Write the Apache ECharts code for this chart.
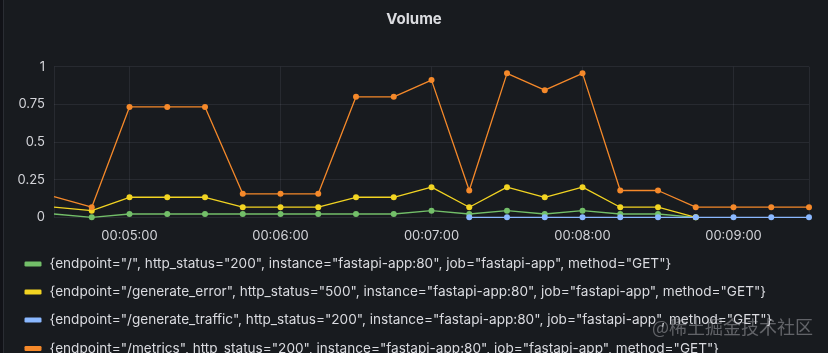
<!DOCTYPE html>
<html>
<head>
<meta charset="utf-8">
<script src="https://cdn.jsdelivr.net/npm/echarts@6/dist/echarts.min.js"></script>
<style>
html,body{margin:0;padding:0;background:#181b1f;}
#c{width:828px;height:353px;}
</style>
</head>
<body>
<div id="c"></div>
<script>
// time stamps (HH:MM:SS), every 15 s
const times = ["00:04:30","00:04:45","00:05:00","00:05:15","00:05:30","00:05:45","00:06:00","00:06:15","00:06:30","00:06:45","00:07:00","00:07:15","00:07:30","00:07:45","00:08:00","00:08:15","00:08:30","00:08:45","00:09:00","00:09:15","00:09:30"];
const rootValues = [0.022,0,0.022,0.022,0.022,0.022,0.022,0.022,0.022,0.022,0.044,0.022,0.044,0.022,0.044,0.022,0.022,0,null,null,null];
const errorValues = [0.067,0.044,0.133,0.133,0.133,0.067,0.067,0.067,0.133,0.133,0.2,0.067,0.2,0.133,0.2,0.067,0.067,0,null,null,null];
const trafficValues = [null,null,null,null,null,null,null,null,null,null,null,0,0,0,0,0,0,0,0,0,0];
const metricsValues = [0.137,0.067,0.733,0.733,0.733,0.156,0.156,0.156,0.8,0.8,0.911,0.178,0.956,0.844,0.956,0.178,0.178,0.067,0.067,0.067,0.067];
const seriesNames = [
  '{endpoint="/", http_status="200", instance="fastapi-app:80", job="fastapi-app", method="GET"}',
  '{endpoint="/generate_error", http_status="500", instance="fastapi-app:80", job="fastapi-app", method="GET"}',
  '{endpoint="/generate_traffic", http_status="200", instance="fastapi-app:80", job="fastapi-app", method="GET"}',
  '{endpoint="/metrics", http_status="200", instance="fastapi-app:80", job="fastapi-app", method="GET"}'
];
const seriesColors = ['#73BF69','#F2D422','#8AB8FF','#F5892A'];
const yTicks = [0,0.25,0.5,0.75,1];
const xRange = ["00:04:30","00:09:30"];

function toMs(s){const p=s.split(':').map(Number);return Date.UTC(2024,0,1,p[0],p[1],p[2]);}
function pad(n){return (n<10?'0':'')+n;}
function build(vals){return vals.map((v,i)=>[toMs(times[i]), v]);}

const allVals=[rootValues,errorValues,trafficValues,metricsValues];
const legendBase = {
  orient:'vertical', left:19.5, itemGap:14,
  icon:'roundRect', itemWidth:17, itemHeight:5,
  selectedMode:false,
  textStyle:{color:'#dadbe0',fontSize:13.6,fontFamily:'Inter',lineHeight:14,padding:[0,0,0,3]}
};
const chart = echarts.init(document.getElementById('c'), null, {renderer:'canvas'});
chart.setOption({
  backgroundColor:'#181b1f',
  useUTC:true,
  animation:false,
  title:{text:'Volume',left:'center',top:7,textStyle:{color:'#dcdde1',fontSize:15,fontWeight:'bold',fontFamily:'Inter'}},
  grid:{left:54,right:19,top:66.7,bottom:135.7},
  xAxis:{
    type:'time', min:toMs(xRange[0]), max:toMs(xRange[1]),
    minInterval:60000, maxInterval:60000,
    axisLine:{show:false}, axisTick:{show:false},
    splitLine:{show:true,lineStyle:{color:'rgba(204,204,220,0.09)',width:1}},
    axisLabel:{color:'#d3d4d9',fontSize:13,fontFamily:'Inter',margin:12,
      formatter:function(v){const d=new Date(v);return pad(d.getUTCHours())+':'+pad(d.getUTCMinutes())+':'+pad(d.getUTCSeconds());}}
  },
  yAxis:{
    type:'value', min:yTicks[0], max:yTicks[yTicks.length-1], interval:yTicks[1]-yTicks[0],
    axisLine:{show:false}, axisTick:{show:false},
    splitLine:{lineStyle:{color:'rgba(204,204,220,0.09)',width:1}},
    axisLabel:{color:'#d3d4d9',fontSize:13,fontFamily:'Inter',margin:9}
  },
  legend:[
    Object.assign({}, legendBase, {top:252, data:seriesNames.slice(0,3)}),
    Object.assign({}, legendBase, {top:336.5, data:seriesNames.slice(3)})
  ],
  graphic:[
    {type:'rect',shape:{x:0,y:0,width:3,height:353},style:{fill:'#111217'},silent:true},
    {type:'rect',shape:{x:3,y:0,width:1,height:353},style:{fill:'#2a2d33'},silent:true},
    {type:'text',right:15,top:318,z:100,style:{text:'@稀土掘金技术社区',fill:'rgba(200,200,205,0.42)',fontSize:18,fontFamily:'Noto Sans CJK SC'}}
  ],
  series: seriesNames.map((n,i)=>({
    name:n, type:'line', data:build(allVals[i]),
    color:seriesColors[i],
    lineStyle:{width:1.3,color:seriesColors[i]},
    itemStyle:{color:seriesColors[i]},
    symbol:'circle',
    symbolSize:function(v,p){return p.dataIndex===0?0:6;},
    showAllSymbol:true,
    connectNulls:false,
    z:2+i
  }))
});
</script>
</body>
</html>
